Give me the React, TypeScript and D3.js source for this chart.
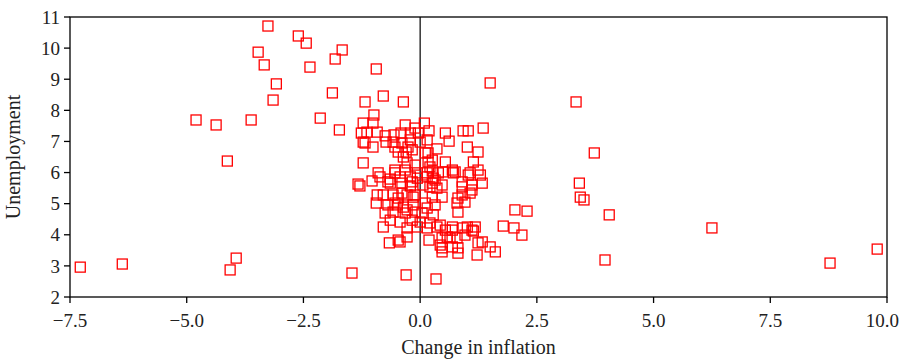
import React from "react";
import * as d3 from "d3";

// [change in inflation, unemployment]
const points: [number, number][] = [
  [-7.28, 2.96], [-6.38, 3.06], [-4.8, 7.69], [-4.37, 7.53], [-4.13, 6.37], [-4.07, 2.87], [-3.94, 3.25],
  [-3.62, 7.69], [-3.26, 10.71], [-3.47, 9.87], [-3.34, 9.46], [-3.08, 8.85], [-3.15, 8.33], [-2.61, 10.39],
  [-2.44, 10.16], [-2.36, 9.39], [-2.14, 7.75], [-1.88, 8.56], [-1.67, 9.94], [-1.82, 9.65], [-1.73, 7.37],
  [-0.94, 9.33], [-0.79, 8.46], [-1.18, 8.27], [-0.36, 8.27], [-1.46, 2.77], [-0.3, 2.71], [0.34, 2.58],
  [1.5, 8.88], [3.34, 8.27], [3.73, 6.63], [3.41, 5.66], [3.43, 5.21], [3.51, 5.12], [4.05, 4.64],
  [3.96, 3.19], [6.25, 4.22], [8.78, 3.09], [9.79, 3.54], [2.03, 4.8], [2.29, 4.76], [1.78, 4.28],
  [2.01, 4.22], [2.18, 3.99], [1.35, 7.43],
  [-0.99, 7.85], [-1.22, 7.59], [-1.01, 7.59], [-0.32, 7.53], [-0.11, 7.43], [0.09, 7.59], [-1.26, 7.27],
  [-1.14, 7.3], [-0.92, 7.3], [-0.75, 7.18], [-0.56, 7.21], [-0.41, 7.27], [-0.21, 7.27], [-0.04, 7.27],
  [0.19, 7.34], [0.54, 7.27], [0.92, 7.34], [1.03, 7.34], [-1.22, 6.98], [-1.01, 6.82], [-0.73, 6.98],
  [-0.58, 6.98], [-0.39, 6.95], [-0.21, 7.05], [0.0, 6.98], [0.15, 7.05], [-0.54, 6.82], [-0.26, 6.82],
  [-1.18, 6.95], [0.36, 6.76], [0.62, 7.01], [1.01, 6.82], [1.24, 6.66], [-0.47, 6.66], [-0.3, 6.66],
  [-0.17, 6.73], [0.11, 6.63], [0.17, 6.63], [-1.22, 6.31], [-0.36, 6.5], [-0.28, 6.31], [-0.11, 6.24],
  [0.21, 6.18], [0.17, 6.34], [0.26, 6.4], [0.54, 6.34], [1.14, 6.34], [-0.32, 6.08], [0.26, 6.05],
  [0.49, 6.02], [0.69, 6.08], [0.75, 6.02], [1.24, 6.08], [1.07, 5.99], [-0.54, 6.08], [-0.9, 5.99],
  [-0.86, 5.86], [-0.64, 5.79], [-0.43, 5.86], [-0.21, 5.86], [-0.06, 5.82], [0.15, 5.86], [0.32, 5.76],
  [-1.03, 5.73], [-1.29, 5.57], [-1.33, 5.63], [-0.64, 5.66], [-0.39, 5.66], [-0.21, 5.57], [0.21, 5.54],
  [0.36, 5.5], [-0.92, 5.28], [-0.79, 5.28], [-0.58, 5.28], [-0.39, 5.34], [-0.28, 5.28], [-0.11, 5.28],
  [0.26, 5.21], [0.47, 5.21], [-0.94, 5.02], [-0.49, 4.96], [-0.28, 4.8], [-0.11, 4.73], [-0.75, 4.7],
  [-0.64, 4.47], [-0.43, 4.41], [0.0, 4.41], [0.28, 4.64], [-0.79, 4.25], [0.15, 4.22], [0.36, 4.25],
  [0.54, 4.15], [0.47, 3.9], [0.43, 3.67], [-0.28, 3.93], [-0.43, 3.77], [-0.66, 3.74], [0.19, 3.83],
  [0.15, 5.99], [0.28, 5.82], [0.39, 5.99], [0.71, 5.99], [1.03, 5.92], [1.29, 5.92], [1.33, 5.66],
  [1.11, 5.6], [0.9, 5.54], [0.47, 5.6], [0.26, 5.66], [0.06, 5.6], [0.9, 5.28], [1.07, 5.34],
  [0.81, 5.18], [0.96, 5.05], [0.11, 5.02], [0.32, 4.96], [0.15, 4.86], [0.81, 4.73], [0.04, 4.7],
  [0.21, 4.38], [0.43, 4.31], [0.69, 4.25], [1.01, 4.25], [1.18, 4.25], [0.9, 5.7], [1.11, 5.44],
  [0.79, 5.02], [-0.69, 5.7], [-0.54, 5.99], [-0.17, 5.7], [-0.06, 5.99], [-0.47, 5.18], [-0.15, 5.21],
  [-0.69, 4.96], [-0.54, 5.02], [-0.36, 4.89], [-0.15, 4.96], [-0.58, 4.73], [-0.32, 4.7], [-0.17, 4.47],
  [-0.28, 4.22], [-0.06, 4.25],
  [0.69, 4.15], [0.92, 4.22], [1.11, 4.15], [0.64, 3.9], [0.79, 3.9], [0.96, 3.99], [0.47, 3.58],
  [0.69, 3.61], [0.81, 3.58], [0.81, 3.41], [1.24, 3.74], [1.33, 3.77], [1.5, 3.61], [1.61, 3.45],
  [1.22, 3.35], [0.58, 3.93], [0.47, 3.45], [1.14, 4.12], [-0.47, 3.83],
];

const xTicks = [-7.5, -5.0, -2.5, 0.0, 2.5, 5.0, 7.5, 10.0];
const yTicks = [2, 3, 4, 5, 6, 7, 8, 9, 10, 11];
const xTitle = "Change in inflation";
const yTitle = "Unemployment";

const W = 901;
const H = 361;
const M = { left: 70, right: 14, top: 17, bottom: 64 };

export default function App() {
  const x = d3.scaleLinear().domain([-7.5, 10]).range([M.left, W - M.right]);
  const y = d3.scaleLinear().domain([2, 11]).range([H - M.bottom, M.top]);
  const fmtX = d3.format(".1f");
  const font = "'Liberation Serif', 'DejaVu Serif', serif";
  const s = 10;
  const lastX = xTicks[xTicks.length - 1];
  return (
    <svg width={W} height={H} style={{ position: "absolute", left: 0, top: 0, background: "#fff" }} fontFamily={font}>
      <rect x={0} y={0} width={W} height={H} fill="#fff" />
      {/* zero line */}
      <line x1={x(0)} x2={x(0)} y1={y(11)} y2={y(2)} stroke="#000" strokeWidth={1.2} />
      {points.map(([a, b], i) => (
        <rect key={i} x={x(a) - s / 2} y={y(b) - s / 2} width={s} height={s} fill="none" stroke="#ff0000" strokeWidth={1.3} />
      ))}
      {/* frame */}
      <rect x={M.left} y={M.top} width={W - M.left - M.right} height={H - M.top - M.bottom} fill="none" stroke="#000" strokeWidth={1.3} />
      {xTicks.map((t) => (
        <g key={t}>
          <line x1={x(t)} x2={x(t)} y1={y(2)} y2={y(2) + 6} stroke="#000" strokeWidth={1.3} />
          <text
            x={t === lastX ? W - 2 : x(t)}
            y={y(2) + 30}
            textAnchor={t === lastX ? "end" : "middle"}
            fontSize={19}
            fill="#222"
          >
            {fmtX(t)}
          </text>
        </g>
      ))}
      {yTicks.map((t) => (
        <g key={t}>
          <line x1={M.left - 6} x2={M.left} y1={y(t)} y2={y(t)} stroke="#000" strokeWidth={1.3} />
          <text x={M.left - 10} y={y(t)} dy="0.35em" textAnchor="end" fontSize={19} fill="#222">{t}</text>
        </g>
      ))}
      <text x={(M.left + W - M.right) / 2} y={H - 7} textAnchor="middle" fontSize={20} fill="#222">{xTitle}</text>
      <text transform={`translate(20, ${(M.top + H - M.bottom) / 2}) rotate(-90)`} textAnchor="middle" fontSize={20} fill="#222">{yTitle}</text>
    </svg>
  );
}
